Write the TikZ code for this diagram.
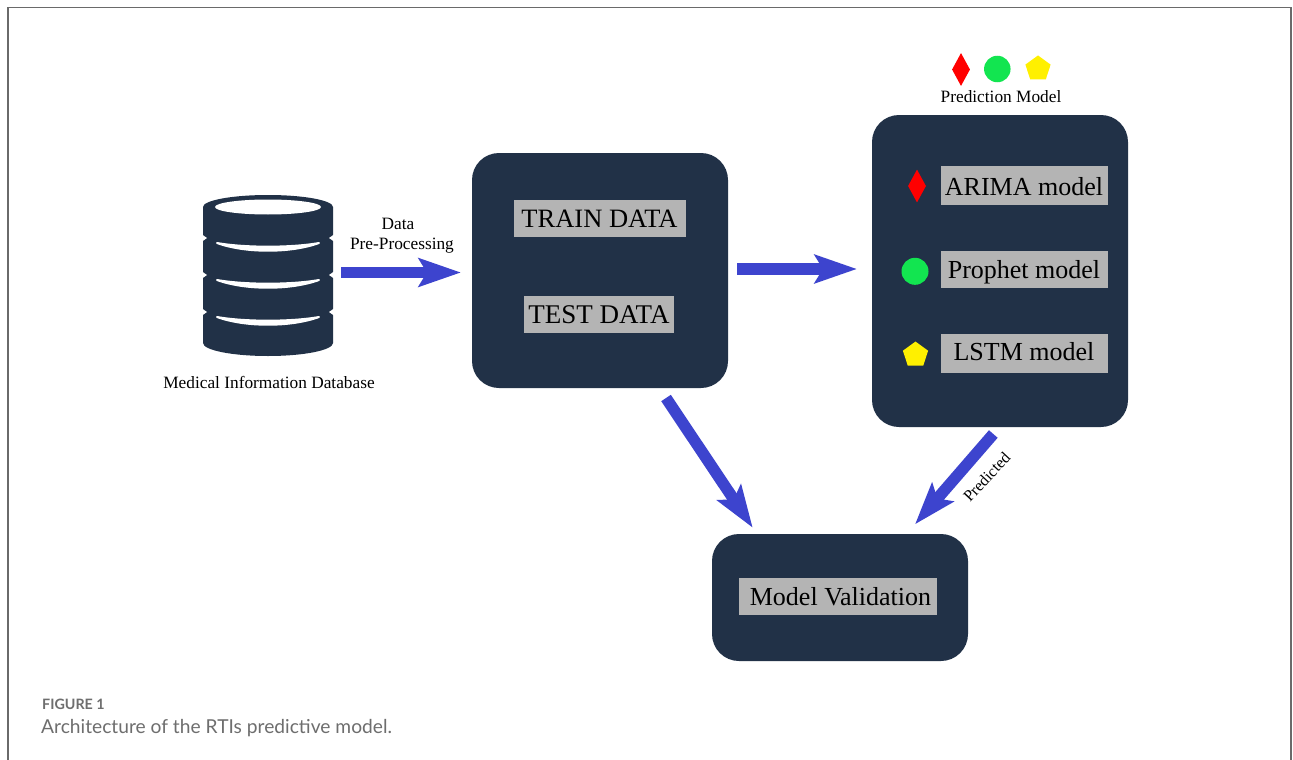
\documentclass[tikz,border=0pt]{standalone}
\usepackage{fontspec}
\setmainfont{Liberation Serif}
\newfontfamily\capfont{Lato}
\usetikzlibrary{shapes.geometric,arrows.meta}
\definecolor{navy}{HTML}{213147}
\definecolor{blu}{HTML}{3D44CE}
\definecolor{gry}{HTML}{B4B4B4}
\definecolor{fram}{HTML}{6A6A6A}
\definecolor{capc}{HTML}{6E6E6E}
\definecolor{grn}{HTML}{12E550}
\definecolor{yel}{HTML}{FFF000}
\tikzset{
 x=1pt,y=-1pt,
 panel/.style={fill=navy,draw=none,rounded corners=27pt,minimum width=#1,inner sep=0pt},
 lab/.style={fill=gry,text=black,font=\fontsize{26}{26}\selectfont,inner sep=0pt,anchor=center,text depth=0pt},
 small/.style={font=\fontsize{17.3}{20}\selectfont,text=black,inner sep=0pt,align=center},
 fat/.style={draw=blu,line width=11.5pt,-{Stealth[length=42pt,width=28pt,inset=8pt]}},
 rdia/.style={diamond,fill=red,draw=none,inner sep=0pt,minimum width=18pt,minimum height=33pt,shape aspect=0.55},
 gcir/.style={circle,fill=grn,draw=none,inner sep=0pt,minimum size=26.5pt},
 ypen/.style={regular polygon,regular polygon sides=5,fill=yel,draw=none,inner sep=0pt,minimum size=26.5pt},
}
\begin{document}
\begin{tikzpicture}
\useasboundingbox (0,0) rectangle (1293,760);
\fill[white] (0,0) rectangle (1293,760);
\draw[fram,line width=1.6pt] (8,760) -- (8,7.5) -- (1291,7.5) -- (1291,760);
% database
\fill[navy] (203,207) arc[x radius=65,y radius=-12,start angle=180,end angle=0] -- (333,343)
   arc[x radius=65,y radius=13,start angle=0,end angle=180] -- cycle;
\fill[white] (268,207) ellipse[x radius=53,y radius=7.5];
\foreach \t in {0,37,74}{
 \filldraw[white,line width=2pt,line join=round] (217,243+\t) .. controls (245,247.9+\t) and (291,247.9+\t) .. (319,243+\t)
    .. controls (291,253.3+\t) and (245,253.3+\t) .. cycle;
 \fill[white] (202,234.5+\t) -- (207,238+\t) -- (202,241.5+\t) -- cycle;
 \fill[white] (334,234.5+\t) -- (329,238+\t) -- (334,241.5+\t) -- cycle;
}
\node[small] (dbl) at (269,382) {Medical Information Database};
\node[small] (dpp) at (402,236) {Data\hspace*{8pt}\\Pre-Processing};
% panels
\node[panel=256pt,minimum height=235pt] (split) at (600,270.5) {};
\node[panel=256pt,minimum height=312pt] (model) at (1000,271) {};
\node[panel=256pt,minimum height=127pt] (valid) at (840,597.5) {};
\node[lab,minimum width=172pt,minimum height=36.5pt,font=\fontsize{26.5}{26}\selectfont] (train) at (599.5,218.3) {TRAIN DATA};
\node[lab,minimum width=149.5pt,minimum height=36.5pt,font=\fontsize{27}{26}\selectfont] (test) at (599,314.5) {TEST DATA};
\node[lab,minimum width=167pt,minimum height=39pt] (arima) at (1024,185.5) {\raisebox{-1pt}{ARIMA model}};
\node[lab,minimum width=167pt,minimum height=37pt] (prophet) at (1024,269.5) {\raisebox{1pt}{Prophet model}};
\node[lab,minimum width=167pt,minimum height=39pt] (lstm) at (1024,353.5) {\raisebox{3.5pt}{LSTM model}};
\node[lab,minimum width=198pt,minimum height=37pt] (mv) at (838,596.5) {\hspace*{5pt}Model Validation};
\node[rdia] (d1) at (961,69.5) {};
\node[gcir] (c1) at (997.3,69) {};
\node[ypen] (p1) at (1038,68.7) {};
\node[small] (pm) at (1001,97) {Prediction Model};
\node[rdia] (d2) at (917,186) {};
\node[gcir,minimum size=27pt] (c2) at (915,271.3) {};
\node[ypen] (p2) at (915.5,354.8) {};
% arrows
\coordinate (a1s) at (341,272.5); \coordinate (a1e) at (461,272.5);
\coordinate (a2s) at (737,269); \coordinate (a2e) at (857,269);
\coordinate (a3s) at (666,398); \coordinate (a3e) at (752.7,527.7);
\coordinate (a4s) at (993.3,434); \coordinate (a4e) at (915,524.3);
\draw[fat] (a1s) -- (a1e);
\draw[fat] (a2s) -- (a2e);
\draw[fat] (a3s) -- (a3e);
\draw[fat] (a4s) -- (a4e);
\node[small,rotate=47,font=\fontsize{16}{16}\selectfont] (pred) at (986.7,477) {Predicted};
% caption
\node[anchor=base west,inner sep=0pt,text=capc,font=\capfont\bfseries\fontsize{14.3}{14}\selectfont] (figl) at (42,709) {FIGURE 1};
\node[anchor=base west,inner sep=0pt,text=capc,font=\capfont\fontsize{19.2}{20}\selectfont] (figc) at (41,733) {Architecture of the RTIs predictive model.};
\end{tikzpicture}
\end{document}
